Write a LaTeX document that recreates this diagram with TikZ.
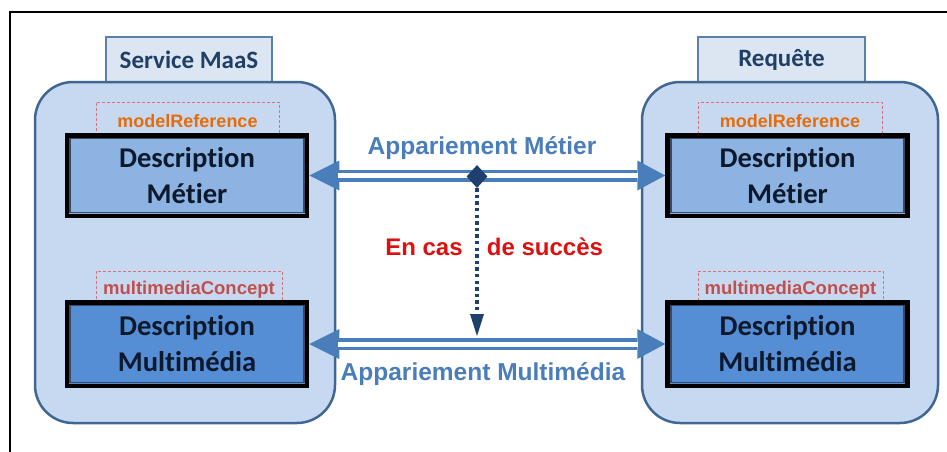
\documentclass[tikz,border=0pt]{standalone}
\usepackage{fontspec}
\setmainfont{Liberation Sans}
\newfontfamily\calib[Ligatures=NoCommon]{Carlito}
\usetikzlibrary{shapes.geometric,arrows.meta}
\definecolor{contfill}{HTML}{C6D9F1}
\definecolor{contdraw}{HTML}{3F6791}
\definecolor{tabfill}{HTML}{DCE6F2}
\definecolor{tabdraw}{HTML}{5A80AD}
\definecolor{metfill}{HTML}{8DB3E2}
\definecolor{mmfill}{HTML}{558ED5}
\definecolor{arrowc}{HTML}{4A7EBB}
\definecolor{navy}{HTML}{1F3F6F}
\definecolor{tabtext}{HTML}{1F3F66}
\definecolor{desctext}{HTML}{0D1A2E}
\definecolor{orangec}{HTML}{E46C0A}
\definecolor{mmred}{HTML}{C0504D}
\definecolor{dashc}{HTML}{D9707A}
\definecolor{redc}{HTML}{DD1010}
\definecolor{innerc}{HTML}{3A4A60}
\tikzset{
  container/.style={draw=contdraw, fill=contfill, line width=2.5pt, rounded corners=38pt, minimum width=#1, minimum height=341pt, inner sep=0pt},
  tabbox/.style={draw=tabdraw, fill=tabfill, line width=1.5pt, minimum width=#1, minimum height=45pt, inner sep=0pt,
     text=tabtext, font=\calib\bfseries\fontsize{25}{30}\selectfont},
  dashbox/.style={draw=dashc, line width=0.9pt, dash pattern=on 3pt off 2pt, minimum width=#1, minimum height=38pt, inner sep=0pt},
  reftext/.style={font=\bfseries\fontsize{18}{22}\selectfont},
  descbox/.style={draw=black, line width=4.5pt, fill=#1, minimum width=240pt, inner sep=0pt, align=center,
     text=desctext, font=\calib\bfseries\fontsize{28.6}{36}\selectfont},
  innerline/.style={draw=innerc, line width=1.8pt},
  dblarrow/.style={draw=arrowc, line width=12pt,
     {Triangle[length=30pt,width=30pt,line width=0pt]}-{Triangle[length=28pt,width=30pt,line width=0pt]}},
  dblgap/.style={draw=white, line width=5pt, shorten <=29pt, shorten >=27pt},
  matchlabel/.style={text=arrowc, font=\bfseries\fontsize{24.5}{29}\selectfont, inner sep=0pt},
  redlabel/.style={text=redc, font=\bfseries\fontsize{24}{28}\selectfont, inner sep=0pt},
  dotarrow/.style={draw=navy, line width=3.8pt, dash pattern=on 3.3pt off 3.3pt,
     -{Triangle[length=22pt,width=14pt,line width=0pt]}},
}
\begin{document}
\begin{tikzpicture}[x=1pt,y=-1pt]
\useasboundingbox (0,0) rectangle (947,452);
\fill[white] (0,0) rectangle (947,452);
% frame
\draw[black, line width=1.6pt] (10,470) -- (10,12) -- (960,12);

% tabs
\node[tabbox=166pt] (ltab) at (189,59.5) {Service MaaS};
\node[tabbox=167pt] (rtab) at (781.5,59.5) {Requête};

% containers
\node[container=300pt] (lc) at (185,252.5) {};
\node[container=296pt] (rc) at (790,252.5) {};

% dashed annotation boxes
\node[dashbox=183pt, reftext, text=orangec, text depth=0pt] (lref) at (187.5,121) {modelReference};
\node[dashbox=184pt, reftext, text=orangec, text depth=0pt] (rref) at (790,121) {modelReference};
\node[dashbox=186pt, reftext, text=mmred, font=\bfseries\fontsize{18.5}{22}\selectfont] (lmmc) at (189,290) {multimediaConcept};
\node[dashbox=185pt, reftext, text=mmred, font=\bfseries\fontsize{18.5}{22}\selectfont] (rmmc) at (790.5,290) {multimediaConcept};

% description boxes
\node[descbox=metfill, minimum height=80.5pt] (lm) at (187,175.5) {Description\\Métier};
\node[descbox=metfill, minimum height=80.5pt] (rm) at (787.5,175.5) {Description\\Métier};
\node[descbox=mmfill, minimum height=83.5pt] (lmm) at (187,344) {Description\\Multimédia};
\node[descbox=mmfill, minimum height=83.5pt] (rmm) at (787.5,344) {Description\\Multimédia};

\foreach \n in {lm,rm,lmm,rmm}{
  \draw[innerline] ([shift={(5.5,5.5)}]\n.north west) rectangle ([shift={(-5.5,-5.5)}]\n.south east);
}

% matching arrows
\draw[dblarrow] (lm.east) -- (rm.west);
\draw[dblgap] (lm.east) -- (rm.west);
\draw[dblarrow] (lmm.east) -- (rmm.west);
\draw[dblgap] (lmm.east) -- (rmm.west);

% diamond and conditional arrow
\node[diamond, fill=navy, minimum width=21pt, minimum height=23pt, inner sep=0pt] (dia) at (477,176.5) {};
\coordinate (dend) at (477,336);
\draw[dotarrow] (dia.south) -- (dend);

% labels
\node[matchlabel] (lab1) at (482,148) {Appariement Métier};
\node[matchlabel] (lab2) at (483,374) {Appariement Multimédia};
\node[redlabel] (red1) at (424,247) {En cas};
\node[redlabel] (red2) at (545,247) {de succès};
\end{tikzpicture}
\end{document}
